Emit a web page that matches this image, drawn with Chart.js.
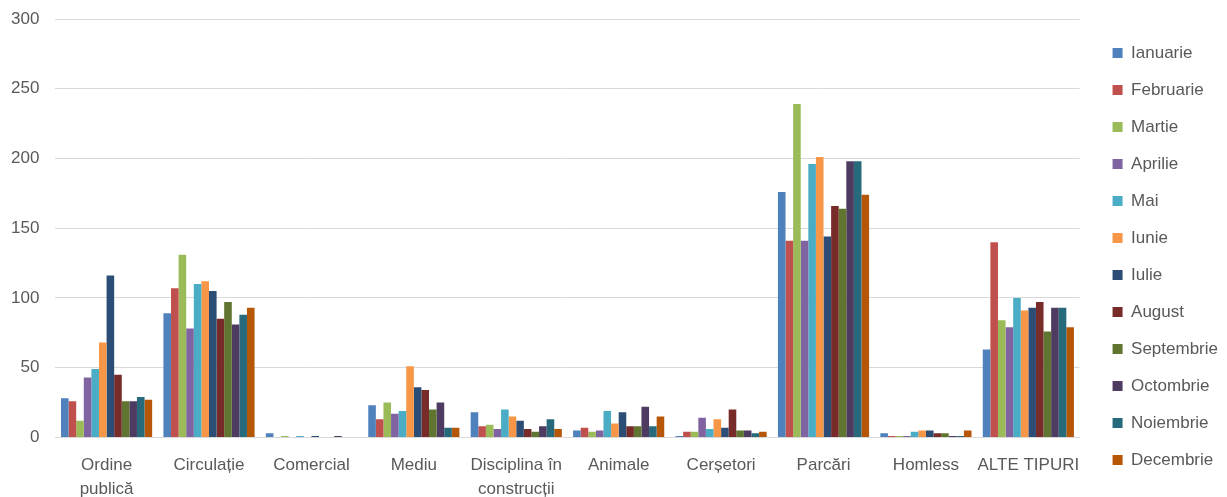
<!DOCTYPE html>
<html>
<head>
<meta charset="utf-8">
<script src="https://cdn.jsdelivr.net/npm/chart.js@4/dist/chart.umd.min.js"></script>
<style>
  html, body { margin: 0; padding: 0; background: #fff; overflow: hidden; }
  #wrap { width: 1227px; height: 517px; position: relative; }
</style>
</head>
<body>
<div id="wrap"><canvas id="grafic"></canvas></div>
<script>
// Categorii de sesizări
const categorii = [
  ['Ordine', 'publică'], 'Circulație', 'Comercial', 'Mediu',
  ['Disciplina în', 'construcții'], 'Animale', 'Cerșetori', 'Parcări',
  'Homless', 'ALTE TIPURI'
];

// Valori lunare, în ordinea categoriilor de mai sus
const ianuarie   = [28, 89, 3, 23, 18, 5, 1, 176, 3, 63];
const februarie  = [26, 107, 0, 13, 8, 7, 4, 141, 1, 140];
const martie     = [12, 131, 1, 25, 9, 4, 4, 239, 1, 84];
const aprilie    = [43, 78, 0, 17, 6, 5, 14, 141, 1, 79];
const mai        = [49, 110, 1, 19, 20, 19, 6, 196, 4, 100];
const iunie      = [68, 112, 0, 51, 15, 10, 13, 201, 5, 91];
const iulie      = [116, 105, 1, 36, 12, 18, 7, 144, 5, 93];
const august     = [45, 85, 0, 34, 6, 8, 20, 166, 3, 97];
const septembrie = [26, 97, 0, 20, 4, 8, 5, 164, 3, 76];
const octombrie  = [26, 81, 1, 25, 8, 22, 5, 198, 1, 93];
const noiembrie  = [29, 88, 0, 7, 13, 8, 3, 198, 1, 93];
const decembrie  = [27, 93, 0, 7, 6, 15, 4, 174, 5, 79];

const luni = ['Ianuarie', 'Februarie', 'Martie', 'Aprilie', 'Mai', 'Iunie',
  'Iulie', 'August', 'Septembrie', 'Octombrie', 'Noiembrie', 'Decembrie'];
const serii = [ianuarie, februarie, martie, aprilie, mai, iunie,
  iulie, august, septembrie, octombrie, noiembrie, decembrie];

// Ticks axa Y
const tickuriY = [0, 50, 100, 150, 200, 250, 300];

// Paleta clasică Office
const culori = ['#4F81BD', '#C0504D', '#9BBB59', '#8064A2', '#4BACC6', '#F79646',
  '#2C4D75', '#772C2A', '#5F7530', '#4D3B62', '#276A7C', '#B65708'];

const textGri = '#595959';
const fontBaza = { family: "'Liberation Sans', Arial, sans-serif", size: 17 };

// Legenda ceva mai lată și mutată spre dreapta, ca în original
const ajustareLegenda = {
  id: 'ajustareLegenda',
  beforeLayout(chart) {
    const leg = chart.legend;
    if (!leg || leg._ajustat) return;
    leg._ajustat = true;
    const fitOrig = leg.fit.bind(leg);
    leg.fit = function () { fitOrig(); this.width += 8; };
    const drawOrig = leg.draw.bind(leg);
    leg.draw = function (area) {
      const ctx = chart.ctx;
      ctx.save();
      ctx.translate(13, -2);
      drawOrig(area);
      ctx.restore();
    };
  }
};

new Chart(document.getElementById('grafic'), {
  type: 'bar',
  data: {
    labels: categorii,
    datasets: serii.map((valori, i) => ({
      label: luni[i],
      data: valori,
      backgroundColor: culori[i],
      borderWidth: 0,
      barPercentage: 1,
      categoryPercentage: 0.89
    }))
  },
  options: {
    responsive: true,
    maintainAspectRatio: false,
    animation: false,
    layout: { padding: { top: 0, right: 4, left: -5, bottom: 0 } },
    scales: {
      x: {
        grid: { display: false, drawTicks: false },
        border: { display: true, color: '#d9d9d9', width: 1 },
        ticks: {
          color: textGri,
          font: { ...fontBaza, lineHeight: 1.4 },
          padding: 16,
          maxRotation: 0,
          autoSkip: false
        }
      },
      y: {
        min: 0,
        max: 300,
        afterBuildTicks: (ax) => { ax.ticks = tickuriY.map(v => ({ value: v })); },
        afterFit: (ax) => { ax.paddingTop = 19; },
        grid: { color: '#d9d9d9', drawTicks: false },
        border: { display: false },
        ticks: { color: textGri, font: fontBaza, padding: 16 }
      }
    },
    plugins: {
      legend: {
        position: 'right',
        labels: {
          color: textGri,
          font: fontBaza,
          boxWidth: 10,
          boxHeight: 10,
          padding: 20
        }
      },
      tooltip: { enabled: false }
    }
  },
  plugins: [ajustareLegenda]
});
</script>
</body>
</html>
